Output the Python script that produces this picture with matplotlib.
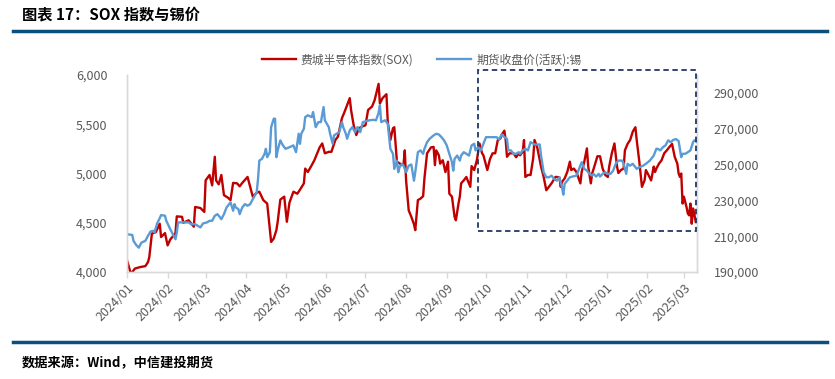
import pandas as pd
import matplotlib
matplotlib.use('Agg')
import matplotlib.pyplot as plt
import matplotlib.dates as mdates
import matplotlib.ticker as ticker
from matplotlib.patches import Rectangle
from matplotlib.lines import Line2D

plt.rcParams['font.family'] = ['Noto Sans CJK SC', 'DejaVu Sans']

# days counted from 2024-01-01
start_date = '2024-01-01'

sox_day = [0, 3, 6, 10, 14, 16, 17, 19, 22, 25, 26, 29, 31, 33, 37, 38, 42, 43, 47, 51,
           52, 56, 59, 60, 63, 65, 67, 68, 70, 72, 74, 77, 79, 81, 84, 86, 88, 92, 94, 96,
           99, 101, 104, 107, 110, 112, 114, 115, 117, 120, 122, 124, 127, 130, 132, 135, 136, 138, 141, 143,
           147, 149, 151, 154, 156, 159, 161, 164, 166, 168, 170, 171, 173, 175, 177, 180, 182, 184, 187, 189,
           192, 193, 195, 198, 199, 201, 203, 204, 206, 209, 211, 212, 213, 215, 217, 219, 220, 222, 224, 226,
           227, 229, 232, 234, 235, 236, 238, 239, 241, 243, 245, 246, 248, 250, 251, 253, 254, 255, 257, 259,
           260, 262, 263, 265, 267, 269, 271, 272, 275, 277, 279, 281, 283, 285, 286, 288, 289, 290, 292, 295,
           297, 299, 300, 302, 303, 304, 306, 308, 310, 311, 313, 315, 316, 318, 320, 322, 324, 327, 328, 330,
           331, 332, 334, 336, 338, 339, 341, 343, 346, 347, 349, 351, 352, 354, 355, 357, 359, 361, 363, 365,
           367, 368, 370, 372, 374, 375, 377, 379, 380, 382, 384, 386, 388, 389, 391, 393, 395, 396, 398, 400,
           402, 403, 404, 406, 408, 410, 412, 414, 416, 418, 420, 421, 422, 423, 424, 425, 427, 428, 429, 430,
           431, 432, 433, 434]
sox_val = [4120, 3980, 4035, 4050, 4060, 4100, 4150, 4390, 4405, 4490, 4355, 4395, 4270, 4330, 4395, 4565, 4560, 4500, 4525, 4460,
           4660, 4650, 4610, 4930, 4985, 4880, 5170, 4930, 4890, 4985, 4780, 4755, 4730, 4905, 4900, 4870, 4905, 4965, 4865, 4765,
           4805, 4815, 4730, 4695, 4305, 4340, 4425, 4510, 4735, 4765, 4510, 4705, 4815, 4795, 4835, 4900, 5050, 5015, 5085, 5135,
           5265, 5305, 5205, 5220, 5220, 5340, 5375, 5560, 5625, 5695, 5765, 5645, 5490, 5390, 5460, 5480, 5490, 5645, 5680, 5745,
           5910, 5710, 5765, 5805, 5525, 5340, 5460, 5470, 5120, 5095, 5085, 5235, 4930, 4625, 4560, 4485, 4425, 4730, 4745, 4770,
           4950, 5205, 5265, 5270, 5085, 5235, 5185, 5100, 5135, 5015, 5120, 4795, 4765, 4560, 4525, 4695, 4765, 4900, 4930, 4965,
           4930, 4865, 5075, 5035, 5135, 5305, 5205, 5185, 5035, 5145, 5205, 5205, 5340, 5355, 5395, 5435, 5340, 5170, 5205, 5205,
           5165, 5205, 5185, 5220, 5340, 4965, 4985, 4985, 5155, 5340, 5270, 5135, 5070, 4965, 4830, 4865, 4900, 4965, 4965, 4960,
           4865, 4915, 4950, 5015, 5120, 5035, 5050, 5015, 4900, 5015, 5120, 5255, 5070, 4900, 5000, 5085, 5175, 5175, 5050, 4985,
           4965, 5070, 5205, 5305, 5070, 5005, 5035, 5050, 5235, 5300, 5340, 5425, 5470, 5340, 5120, 4865, 4930, 5035, 4985, 4930,
           5070, 5015, 5050, 5100, 5135, 5205, 5235, 5270, 5300, 5170, 5100, 5000, 4965, 5000, 4695, 4765, 4660, 4595, 4575, 4695,
           4490, 4645, 4590, 4510]

tin_day = [0, 4, 5, 7, 9, 11, 14, 16, 18, 20, 21, 23, 25, 26, 29, 30, 33, 35, 37, 38,
           39, 43, 47, 49, 52, 54, 56, 58, 61, 63, 65, 67, 69, 71, 72, 74, 76, 77, 79, 81,
           82, 83, 85, 86, 88, 90, 92, 94, 96, 99, 100, 101, 103, 105, 106, 107, 109, 110, 112, 113,
           114, 115, 117, 119, 121, 124, 127, 129, 131, 132, 133, 135, 136, 138, 141, 142, 144, 146, 148, 150,
           151, 154, 155, 157, 158, 160, 162, 164, 165, 167, 168, 170, 172, 174, 176, 178, 180, 182, 185, 188,
           190, 192, 193, 194, 197, 199, 201, 203, 204, 206, 207, 208, 210, 211, 213, 215, 217, 219, 220, 222,
           224, 226, 227, 229, 231, 234, 236, 238, 240, 242, 244, 246, 248, 249, 250, 252, 254, 255, 257, 259,
           261, 263, 265, 266, 268, 270, 272, 274, 277, 280, 282, 284, 286, 288, 290, 291, 293, 295, 297, 299,
           300, 302, 304, 306, 308, 310, 311, 315, 316, 318, 320, 322, 324, 326, 328, 330, 332, 333, 334, 336,
           338, 340, 343, 345, 347, 349, 351, 353, 355, 356, 358, 360, 361, 363, 365, 367, 369, 371, 373, 375,
           378, 379, 381, 382, 384, 386, 388, 389, 391, 394, 396, 399, 402, 404, 405, 407, 409, 411, 413, 415,
           417, 419, 421, 423, 424, 426, 428, 430, 432, 433, 435]
tin_val = [211100, 210700, 207300, 205100, 203600, 206400, 207400, 210200, 212600, 213000,
           212100, 217100, 220100, 221800, 221400, 218600, 213900, 211100, 208300, 212100,
           217700, 217700, 217700, 216700, 216700, 215800, 214900, 217100, 217700, 218600,
           218600, 221400, 222300, 220500, 219500, 222300, 226100, 227000, 228900, 224200,
           227900, 226100, 225100, 222300, 226100, 227900, 227000, 227900, 230700, 234500,
           242000, 252200, 253200, 256000, 258800, 254100, 256900, 270900, 275600, 275600,
           254100, 257900, 263500, 260700, 258800, 259700, 260700, 256900, 267200, 261600,
           267200, 270000, 276500, 277500, 276500, 279300, 270900, 273700, 273700, 282100,
           274700, 270900, 267200, 261600, 266300, 267200, 268100, 273700, 270900, 267200,
           264400, 269100, 270900, 268100, 270900, 268100, 273700, 274100, 274700, 275000,
           274700, 278800, 283100, 273700, 274700, 272800, 258800, 256000, 247600, 252200,
           245700, 248500, 250400, 249400, 245700, 249400, 250000, 241000, 245700, 256900,
           257900, 256000, 258800, 262500, 264400, 266300, 267200, 266800, 265300, 263500,
           260700, 256000, 251300, 246600, 253200, 255000, 252200, 255000, 256900, 256000,
           255000, 260700, 261600, 257900, 259700, 257900, 261600, 265300, 265300, 265300,
           265300, 264000, 266800, 265300, 264400, 257900, 257900, 256000, 256000, 256900,
           256000, 257900, 258800, 257900, 262500, 261600, 261200, 261200, 255000, 245700,
           242900, 242900, 243800, 242000, 241000, 242900, 237300, 233200, 239200, 241000,
           242900, 243300, 243800, 247600, 251300, 247600, 246600, 244800, 243800, 244800,
           243300, 244800, 243300, 244800, 245700, 244800, 244800, 246600, 250400, 252200,
           252200, 250400, 244800, 250400, 249400, 250400, 248500, 247600, 248500, 249400,
           250400, 252200, 255000, 258800, 258800, 257900, 259700, 260700, 263500, 262500,
           263800, 264200, 263100, 254100, 256000, 256000, 256900, 257900, 262500, 263500,
           262500]

sox_label = '费城半导体指数(SOX)'
tin_label = '期货收盘价(活跃):锡'

# highlighted window (dashed box)
box_start, box_end = '2024-09-25', '2025-03-10'
box_low, box_high = 213000, 303000

grey = '#595959'
spine_col = '#D9D9D9'

start = pd.Timestamp(start_date)
sox_dates = start + pd.to_timedelta(sox_day, unit='D')
tin_dates = start + pd.to_timedelta(tin_day, unit='D')

fig = plt.figure(figsize=(8.35, 3.79), dpi=100)
ax = fig.add_axes([0.1521, 0.2823, 0.6826, 0.5198])
ax2 = ax.twinx()

l1, = ax.plot(sox_dates, sox_val, color='#C00000', lw=1.7, label=sox_label)
l2, = ax2.plot(tin_dates, tin_val, color='#5B9BD5', lw=1.7, label=tin_label)

ax.set_xlim(start, pd.Timestamp('2025-03-11'))
ax.set_ylim(4000, 6000)
ax.set_yticks(range(4000, 6001, 500))
ax2.set_ylim(190000, 300000)
ax2.set_yticks(range(190000, 290001, 20000))

fmt = ticker.FuncFormatter(lambda v, p: f'{v:,.0f}')
ax.yaxis.set_major_formatter(fmt)
ax2.yaxis.set_major_formatter(fmt)

ax.xaxis.set_major_locator(mdates.MonthLocator())
ax.xaxis.set_major_formatter(mdates.DateFormatter('%Y/%m'))
plt.setp(ax.get_xticklabels(), rotation=45, ha='right', rotation_mode='anchor')

ax.tick_params(axis='x', colors=spine_col, length=4, width=1, labelcolor=grey,
               labelsize=9, pad=3)
ax.tick_params(axis='y', length=0, labelcolor=grey, labelsize=9, pad=14)
ax2.tick_params(axis='y', length=0, labelcolor=grey, labelsize=9, pad=12)

for a in (ax, ax2):
    a.spines['top'].set_visible(False)
    for s in ('left', 'right', 'bottom'):
        a.spines[s].set_color(spine_col)
        a.spines[s].set_linewidth(1.0)

# dashed highlight box
x0 = mdates.date2num(pd.Timestamp(box_start))
x1 = mdates.date2num(pd.Timestamp(box_end))
ax2.add_patch(Rectangle((x0, box_low), x1 - x0, box_high - box_low, fill=False,
                        ec='#1F3864', lw=1.3, ls=(0, (3, 2)), clip_on=False, zorder=5))

fig.legend([l1, l2], [sox_label, tin_label], loc='center', bbox_to_anchor=(0.505, 0.842),
           ncol=2, frameon=False, fontsize=8.5, handlelength=2.9, columnspacing=2.0,
           handletextpad=0.4, labelcolor=grey)

# title, rules and source
fig.text(0.026, 0.963, '图表 17：SOX 指数与锡价', fontsize=11, fontweight='bold',
         va='center', ha='left', color='black')
fig.add_artist(Line2D([0.0156, 0.99], [0.9195, 0.9195], color='#0B4F7F', lw=2.5))
fig.add_artist(Line2D([0.0156, 0.99], [0.097, 0.097], color='#0B4F7F', lw=2.5))
fig.text(0.026, 0.042, '数据来源：Wind，中信建投期货', fontsize=9.5, fontweight='bold',
         va='center', ha='left', color='black')

fig.savefig('out.png', dpi=100)
plt.close(fig)
